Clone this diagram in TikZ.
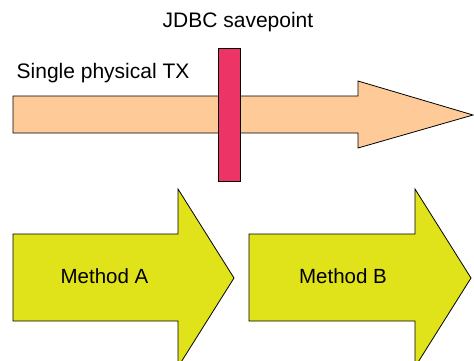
\documentclass[tikz,border=0pt]{standalone}
\usepackage{fontspec}
\setmainfont{Liberation Sans}
\definecolor{peach}{HTML}{FECB98}
\definecolor{savept}{HTML}{EC3566}
\definecolor{methody}{HTML}{E0E21A}
\begin{document}
\begin{tikzpicture}[x=1pt,y=-1pt,
  shape line/.style={draw=black, line width=0.8pt, line join=miter},
  lbl/.style={inner sep=0pt, font=\fontsize{21}{25}\selectfont},
  mlbl/.style={inner sep=0pt, font=\fontsize{20.5}{24}\selectfont}]
\useasboundingbox (0,0) rectangle (474,360);
\clip (0,0) rectangle (474,360);
% top arrow (single physical TX)
\path[shape line, fill=peach] (13,96) -- (358,96) -- (358,81) -- (473,115) -- (358,148) -- (358,133) -- (13,133) -- cycle;
% savepoint bar
\path[shape line, fill=savept] (218,48) rectangle (240,181);
% method arrows
\path[shape line, fill=methody] (13,234) -- (178,234) -- (178,189) -- (234,278) -- (178,367) -- (178,321) -- (13,321) -- cycle;
\path[shape line, fill=methody] (249,234) -- (415,234) -- (415,189) -- (471,278) -- (415,367) -- (415,321) -- (249,321) -- cycle;
% labels
\node[lbl, anchor=base] (jdbc) at (238,27) {JDBC savepoint};
\node[lbl, anchor=base west] (tx) at (16.5,78) {Single physical TX};
\node[mlbl, anchor=base] (ma) at (104.5,283) {Method A};
\node[mlbl, anchor=base] (mb) at (343,283) {Method B};
\end{tikzpicture}
\end{document}
